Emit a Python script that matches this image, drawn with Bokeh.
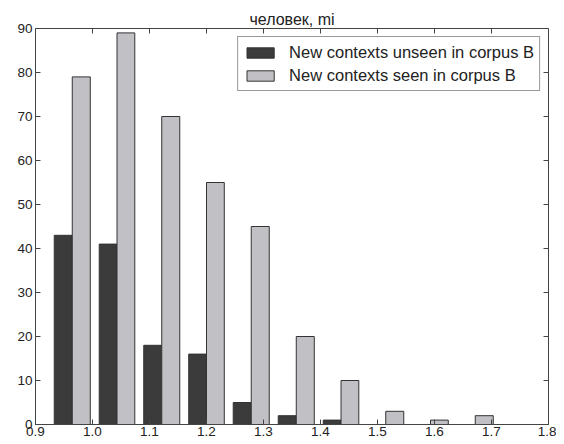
import math
from bokeh.plotting import figure
from bokeh.models import (FixedTicker, Range1d, ColumnDataSource, Legend, LegendItem,
                          NumeralTickFormatter)
from bokeh.embed import file_html
from bokeh.resources import INLINE

# ---- data ----
bin_edges = [0.925, 1.004, 1.082, 1.161, 1.239, 1.318, 1.397, 1.475, 1.554, 1.632, 1.711]
unseen_counts = [43, 41, 18, 16, 5, 2, 1, 0, 0, 0]
seen_counts = [79, 89, 70, 55, 45, 20, 10, 3, 1, 2]
series_labels = ["New contexts unseen in corpus B", "New contexts seen in corpus B"]
title_text = "человек, mi"
x_ticks = [0.9, 1.0, 1.1, 1.2, 1.3, 1.4, 1.5, 1.6, 1.7, 1.8]
y_ticks = [0, 10, 20, 30, 40, 50, 60, 70, 80, 90]

FONT = "Liberation Sans"
DARK = "#3b3b3b"
LIGHT = "#c1c1c5"
EDGE = "#333333"
SPINE = "#444444"

lefts = bin_edges[:-1]
widths = [bin_edges[i + 1] - bin_edges[i] for i in range(len(lefts))]
rwidth = 0.8
bar_w = [w * rwidth / 2 for w in widths]
x_dark = [l + w * (1 - rwidth) / 2 + bw / 2 for l, w, bw in zip(lefts, widths, bar_w)]
x_light = [xd + bw for xd, bw in zip(x_dark, bar_w)]

src_dark = ColumnDataSource(dict(x=x_dark, top=unseen_counts, w=bar_w))
src_light = ColumnDataSource(dict(x=x_light, top=seen_counts, w=bar_w))

p = figure(frame_width=513, frame_height=396, output_backend="svg", toolbar_location=None,
           x_range=Range1d(x_ticks[0], x_ticks[-1]), y_range=Range1d(y_ticks[0], y_ticks[-1]),
           min_border_left=35, min_border_right=8, min_border_top=28, min_border_bottom=4)
p.grid.visible = False
p.outline_line_color = SPINE
p.outline_line_width = 1
p.background_fill_color = "white"
p.border_fill_color = "white"

p.title.text = title_text
p.title.align = "center"
p.title.text_font = FONT
p.title.text_font_size = "16px"
p.title.text_font_style = "normal"
p.title.text_color = "#222222"
p.title.standoff = 2

r_dark = p.vbar(x="x", top="top", width="w", bottom=0, source=src_dark,
                fill_color=DARK, line_color=EDGE, line_width=1)
r_light = p.vbar(x="x", top="top", width="w", bottom=0, source=src_light,
                 fill_color=LIGHT, line_color=EDGE, line_width=1)

# inward ticks on the top and right spines
p.ray(x=x_ticks, y=[y_ticks[-1]] * len(x_ticks), length=5, length_units="screen",
      angle=-math.pi / 2, line_color=SPINE, line_width=1)
p.ray(x=[x_ticks[-1]] * len(y_ticks), y=y_ticks, length=5, length_units="screen",
      angle=math.pi, line_color=SPINE, line_width=1)

for ax in (p.xaxis[0], p.yaxis[0]):
    ax.axis_line_color = SPINE
    ax.axis_line_width = 1
    ax.major_tick_in = 5
    ax.major_tick_out = 0
    ax.major_tick_line_color = SPINE
    ax.minor_tick_line_color = None
    ax.major_label_text_font = FONT
    ax.major_label_text_font_size = "13.5px"
    ax.major_label_text_color = "#222222"
    ax.major_label_standoff = 2

p.xaxis.ticker = FixedTicker(ticks=x_ticks)
p.xaxis.formatter = NumeralTickFormatter(format="0.0")
p.yaxis.ticker = FixedTicker(ticks=y_ticks)
p.yaxis.major_label_standoff = 3

legend = Legend(items=[LegendItem(label=series_labels[0], renderers=[r_dark]),
                       LegendItem(label=series_labels[1], renderers=[r_light])],
                location="top_right")
legend.margin = 8
legend.padding = 5
legend.spacing = 3
legend.glyph_width = 34
legend.glyph_height = 13
legend.label_height = 20
legend.label_standoff = 12
legend.label_text_font = FONT
legend.label_text_font_size = "16.5px"
legend.label_text_color = "#222222"
legend.border_line_color = "#333333"
legend.border_line_width = 1
legend.background_fill_color = "white"
legend.background_fill_alpha = 1
p.add_layout(legend, "center")

open("out.html", "w").write(file_html(p, INLINE))
